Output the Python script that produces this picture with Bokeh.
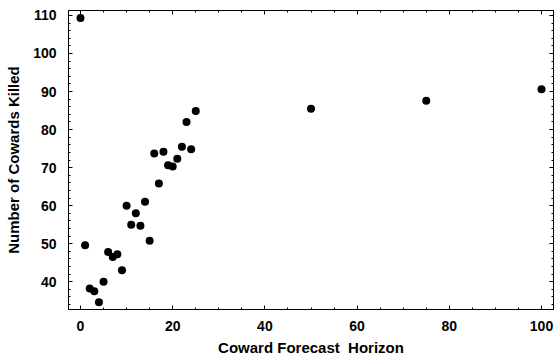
from bokeh.plotting import figure
from bokeh.models import LinearAxis, SingleIntervalTicker, Range1d, CustomJSTickFormatter
from bokeh.embed import file_html
from bokeh.resources import INLINE

# Data
horizon = [0, 1, 2, 3, 4, 5, 6, 7, 8, 9, 10, 11, 12, 13, 14, 15, 16, 17, 18,
           19, 20, 21, 22, 23, 24, 25, 50, 75, 100]
killed = [109.3, 49.6, 38.2, 37.5, 34.6, 40.0, 47.8, 46.5, 47.2, 43.0, 60.0,
          55.0, 58.0, 54.7, 61.0, 50.8, 73.7, 65.8, 74.2, 70.6, 70.3, 72.3,
          75.5, 82.0, 74.8, 84.9, 85.5, 87.6, 90.6]

x_label = "Coward Forecast\u00a0 Horizon"
y_label = "Number of Cowards Killed"

FONT = "Liberation Sans"

p = figure(width=558, height=358, output_backend="svg", toolbar_location=None,
           x_axis_location=None, y_axis_location=None,
           min_border_left=68, min_border_right=5, min_border_top=10,
           min_border_bottom=47)
p.x_range = Range1d(-2.6, 102.6)
p.y_range = Range1d(32.7, 111.3)
p.xgrid.visible = False
p.ygrid.visible = False
p.outline_line_color = "black"
p.outline_line_width = 1
p.background_fill_color = "white"
p.border_fill_color = "white"

def make_axis(ticker, show_labels, label=None):
    ax = LinearAxis(ticker=ticker)
    ax.axis_line_color = "black"
    ax.axis_line_width = 1
    ax.major_tick_in = 4
    ax.major_tick_out = 0
    ax.minor_tick_in = 2
    ax.minor_tick_out = 0
    ax.major_tick_line_color = "black"
    ax.minor_tick_line_color = "black"
    if show_labels:
        ax.major_label_text_font = FONT
        ax.major_label_text_font_style = "bold"
        ax.major_label_text_font_size = "14px"
        ax.major_label_text_color = "black"
        ax.axis_label = label
        ax.axis_label_text_font = FONT
        ax.axis_label_text_font_style = "bold"
        ax.axis_label_text_font_size = "15px"
        ax.axis_label_text_color = "black"
    else:
        ax.formatter = CustomJSTickFormatter(code="return '';")
        ax.major_label_standoff = 0
    return ax

xt = lambda: SingleIntervalTicker(interval=20, num_minor_ticks=4)
yt = lambda: SingleIntervalTicker(interval=10, num_minor_ticks=5)

bottom = make_axis(xt(), True, x_label)
bottom.major_label_standoff = 11
bottom.axis_label_standoff = 5
left = make_axis(yt(), True, y_label)
left.major_label_standoff = 12
left.axis_label_standoff = 8
top = make_axis(xt(), False)
right = make_axis(yt(), False)

p.add_layout(bottom, "below")
p.add_layout(left, "left")
p.add_layout(top, "above")
p.add_layout(right, "right")

p.scatter(horizon, killed, size=8, fill_color="black", line_color=None)

open("out.html", "w").write(file_html(p, INLINE))
